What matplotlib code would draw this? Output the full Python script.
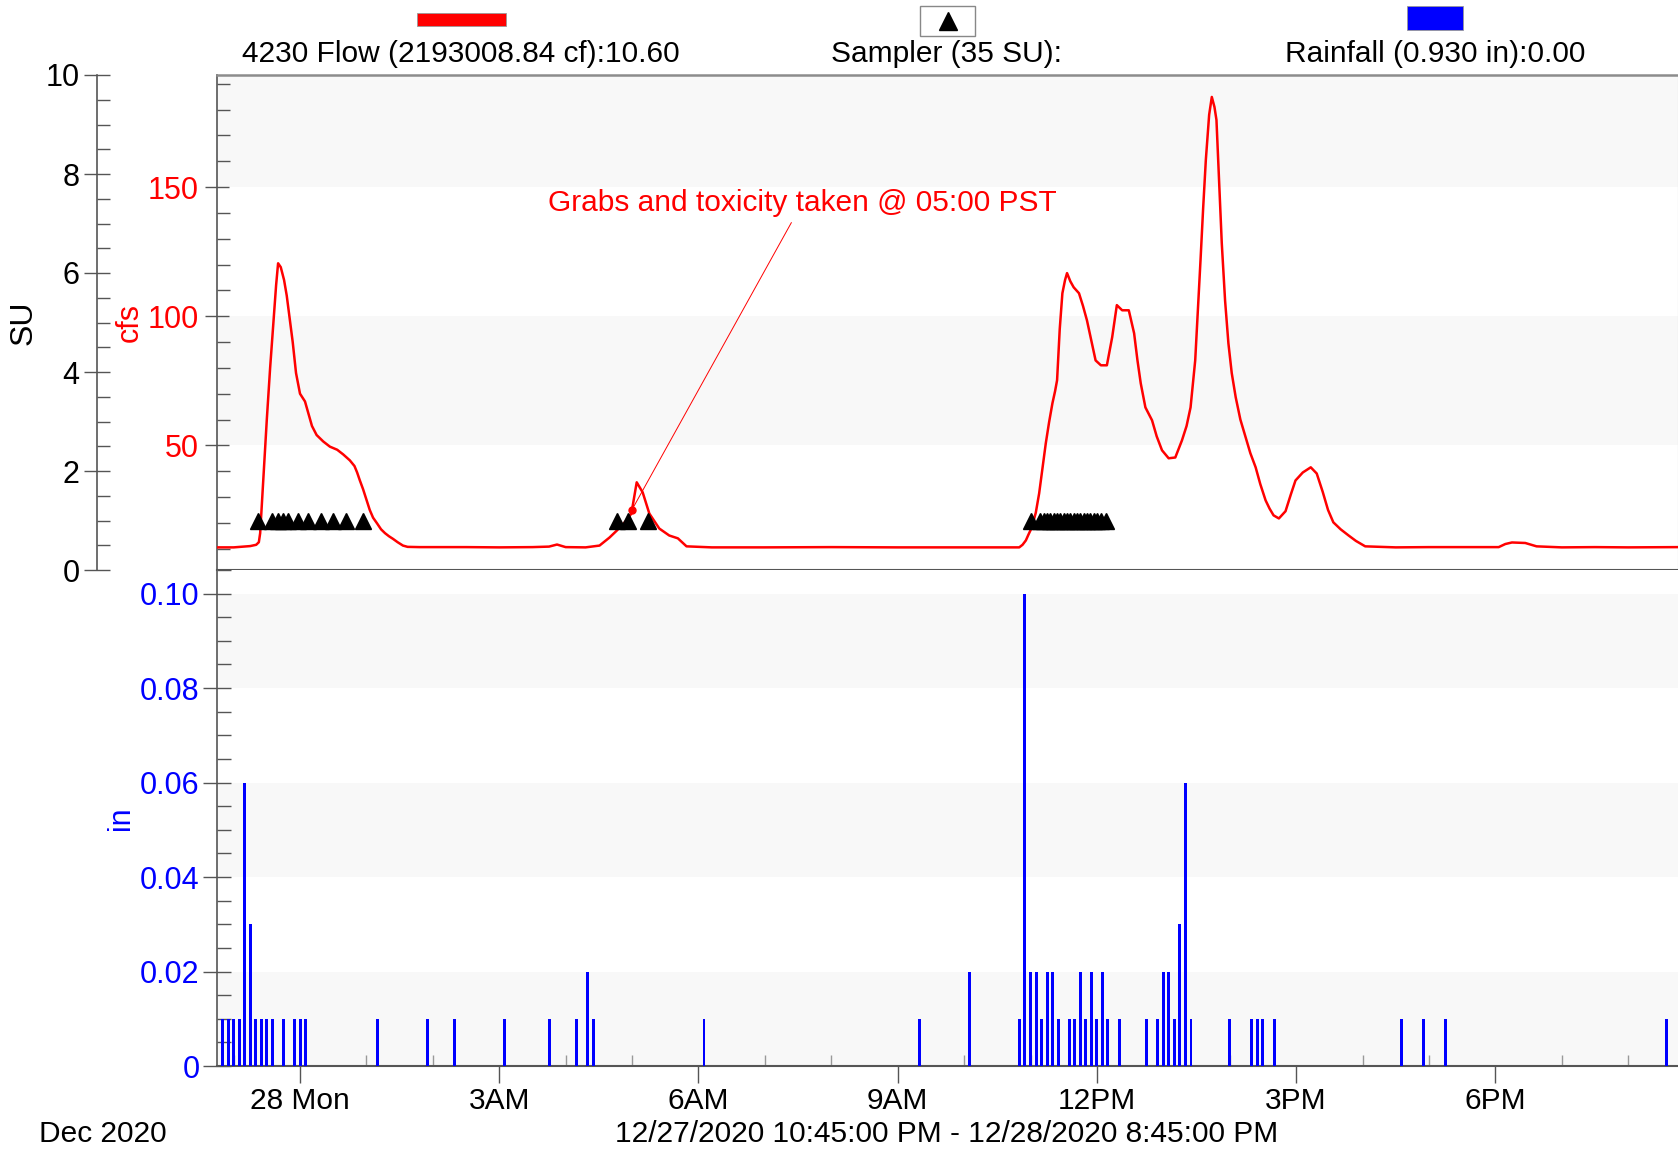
import matplotlib
matplotlib.use("Agg")
import numpy as np
import matplotlib.pyplot as plt
from matplotlib.ticker import MultipleLocator, FixedLocator, FixedFormatter
from matplotlib.patches import Rectangle
from matplotlib.lines import Line2D

plt.rcParams['font.family'] = ['Liberation Sans', 'DejaVu Sans']

# ---------------- data ----------------
# flow (cfs) vs hours relative to midnight 12/28/2020
flow_t = [-1.25, -1.0, -0.75, -0.66, -0.62, -0.60, -0.55, -0.50, -0.45, -0.40,
          -0.36, -0.33, -0.29, -0.24, -0.20, -0.15, -0.11, -0.06, 0.0, 0.075,
          0.13, 0.18, 0.25, 0.35, 0.45, 0.56, 0.65, 0.75, 0.82, 0.86,
          0.90, 0.95, 1.00, 1.05, 1.10, 1.16, 1.22, 1.28, 1.34, 1.40,
          1.47, 1.55, 1.62, 1.8, 2.5, 3.0, 3.5, 3.75, 3.87, 4.0,
          4.3, 4.51, 4.66, 4.77, 4.90, 4.99, 5.07, 5.16, 5.26, 5.41,
          5.56, 5.69, 5.82, 6.2, 7.0, 8.0, 9.0, 10.0, 10.5, 10.83,
          10.88, 10.93, 10.97, 11.02, 11.08, 11.13, 11.18, 11.23, 11.28, 11.33,
          11.37, 11.40, 11.44, 11.48, 11.52, 11.55, 11.60, 11.65, 11.73, 11.79,
          11.85, 11.92, 11.98, 12.06, 12.15, 12.23, 12.30, 12.38, 12.48, 12.56,
          12.61, 12.66, 12.73, 12.83, 12.90, 12.98, 13.08, 13.18, 13.28, 13.35,
          13.41, 13.48, 13.52, 13.56, 13.60, 13.64, 13.69, 13.73, 13.77, 13.80,
          13.84, 13.88, 13.93, 13.98, 14.03, 14.09, 14.16, 14.24, 14.31, 14.39,
          14.46, 14.54, 14.60, 14.66, 14.74, 14.84, 14.92, 14.99, 15.10, 15.22,
          15.31, 15.40, 15.48, 15.56, 15.67, 15.79, 15.90, 16.04, 16.5, 17.0,
          17.5, 18.05, 18.15, 18.25, 18.45, 18.62, 19.0, 19.5, 20.0, 20.75]
flow_cfs = [10.5, 10.5, 11.0, 11.5, 12.5, 16.0, 38.0, 60.0, 80.0, 98.0,
            112.0, 120.5, 119.0, 114.0, 108.0, 98.0, 90.0, 78.0, 70.0, 67.0,
            62.0, 57.5, 54.0, 51.5, 49.5, 48.3, 46.5, 44.2, 42.0, 39.5,
            36.5, 33.0, 29.0, 25.0, 22.0, 19.8, 17.5, 16.0, 14.8, 13.8,
            12.5, 11.2, 10.7, 10.6, 10.6, 10.5, 10.6, 10.8, 11.6, 10.6,
            10.5, 11.2, 14.3, 17.0, 20.5, 23.6, 35.7, 31.8, 23.6, 17.8,
            15.1, 14.0, 10.9, 10.5, 10.5, 10.6, 10.5, 10.5, 10.5, 10.5,
            11.5, 13.2, 15.5, 18.2, 24.0, 31.4, 41.0, 50.8, 59.0, 66.3,
            71.0, 75.2, 95.0, 108.9, 114.0, 116.7, 113.5, 111.2, 108.9, 104.0,
            98.4, 90.0, 82.9, 81.0, 81.0, 91.9, 104.3, 102.3, 102.3, 93.4,
            83.0, 74.0, 64.7, 59.7, 53.5, 48.1, 45.0, 45.3, 51.9, 57.5,
            64.7, 82.9, 102.0, 121.7, 142.0, 160.5, 178.0, 184.9, 181.0, 176.0,
            152.0, 128.3, 106.0, 89.5, 78.0, 68.6, 60.0, 53.1, 47.0, 41.5,
            35.0, 28.7, 25.5, 22.9, 21.7, 24.5, 31.0, 36.4, 39.5, 41.5,
            39.1, 32.0, 25.0, 20.2, 17.5, 15.1, 13.0, 10.9, 10.5, 10.6,
            10.6, 10.6, 11.8, 12.4, 12.2, 10.9, 10.5, 10.6, 10.5, 10.6]

# sampler events (SU), hours relative to midnight
sampler_t = [-0.63, -0.42, -0.33, -0.25, -0.18, -0.03, 0.12, 0.31, 0.50, 0.70, 0.95,
             4.78, 4.94, 5.24,
             11.00, 11.15, 11.20, 11.25, 11.30, 11.35, 11.40, 11.45, 11.50, 11.55,
             11.60, 11.65, 11.70, 11.75, 11.80, 11.85, 11.90, 11.95, 12.00, 12.06, 12.13]
sampler_su = [1.0] * len(sampler_t)

# rainfall (in), 5-minute clock times
rain_times = ["22:50", "22:55", "23:00", "23:05", "23:10", "23:15", "23:20", "23:25",
              "23:30", "23:35", "23:45", "23:55", "00:00", "00:05", "01:10", "01:55",
              "02:20", "03:05", "03:45", "04:10", "04:20", "04:25", "06:05", "09:20",
              "10:05", "10:50", "10:55", "11:00", "11:05", "11:10", "11:15", "11:20",
              "11:25", "11:35", "11:40", "11:45", "11:50", "11:55", "12:00", "12:05",
              "12:10", "12:20", "12:45", "12:55", "13:00", "13:05", "13:10", "13:15",
              "13:20", "13:25", "14:00", "14:20", "14:25", "14:30", "14:40", "16:35",
              "16:55", "17:15", "20:35"]
rain_in = [0.01, 0.01, 0.01, 0.01, 0.06, 0.03, 0.01, 0.01,
           0.01, 0.01, 0.01, 0.01, 0.01, 0.01, 0.01, 0.01,
           0.01, 0.01, 0.01, 0.01, 0.02, 0.01, 0.01, 0.01,
           0.02, 0.01, 0.10, 0.02, 0.02, 0.01, 0.02, 0.02,
           0.01, 0.01, 0.01, 0.02, 0.01, 0.02, 0.01, 0.02,
           0.01, 0.01, 0.01, 0.01, 0.02, 0.02, 0.01, 0.03,
           0.06, 0.01, 0.01, 0.01, 0.01, 0.01, 0.01, 0.01,
           0.01, 0.01, 0.01]

x_tick_hours = [0, 3, 6, 9, 12, 15, 18]
x_tick_labels = ["28 Mon", "3AM", "6AM", "9AM", "12PM", "3PM", "6PM"]
cfs_ticks = [50, 100, 150]
su_ticks = [0, 2, 4, 6, 8, 10]
rain_ticks = [0, 0.02, 0.04, 0.06, 0.08, 0.10]
rain_tick_labels = ["0", "0.02", "0.04", "0.06", "0.08", "0.10"]

grab_time = 5.0
annot_text = "Grabs and toxicity taken @ 05:00 PST"
legend_flow = "4230 Flow (2193008.84 cf):10.60"
legend_sampler = "Sampler (35 SU):"
legend_rain = "Rainfall (0.930 in):0.00"
date_left = "Dec 2020"
date_range = "12/27/2020 10:45:00 PM - 12/28/2020 8:45:00 PM"


def to_hours(s):
    h, m = map(int, s.split(":"))
    v = h + m / 60.0
    if h >= 22:
        v -= 24
    return v


rain_t = [to_hours(s) for s in rain_times]

# ---------------- figure ----------------
W, H = 1678, 1152
fig = plt.figure(figsize=(W / 100, H / 100), dpi=100)
L, R = 217, 1678


def rect(top, bottom):
    return [L / W, 1 - bottom / H, (R - L) / W, (bottom - top) / H]


RED = "#ff0000"
BLUE = "#0000ff"
AXC = "#555555"
BAND = "#f8f8f8"
TICKFS = 22

ax = fig.add_axes(rect(75, 570))
axr = fig.add_axes(rect(570, 1066), sharex=ax)

ax.set_xlim(-1.25, 20.75)
ax.set_ylim(1.74, 193.4)
axr.set_ylim(0, 0.105)

# background bands
for lo, hi in [(150, 200), (50, 100)]:
    ax.axhspan(lo, hi, color=BAND, zorder=0, lw=0)
for lo, hi in [(0.08, 0.10), (0.04, 0.06), (0.0, 0.02)]:
    axr.axhspan(lo, hi, color=BAND, zorder=0, lw=0)

# flow line
ax.plot(flow_t, flow_cfs, color=RED, lw=1.8, zorder=3, solid_joinstyle="round")

# annotation
gy = float(np.interp(grab_time, flow_t, flow_cfs))
ax.plot([grab_time], [gy], "o", color=RED, ms=5, zorder=4)
ax.annotate(annot_text, xy=(grab_time, gy), xytext=(7.56, 143.7),
            ha="center", va="center", color=RED, fontsize=21.5,
            arrowprops=dict(arrowstyle="-", color=RED, lw=0.7,
                            shrinkA=2, shrinkB=0))

# SU axis (sampler)
ax_su = ax.twinx()
ax_su.set_ylim(0, 10)
ax_su.plot(sampler_t, sampler_su, linestyle="none", marker="^", ms=11,
           color="black", zorder=5)
ax_su.yaxis.set_ticks_position("left")
ax_su.yaxis.set_label_position("left")
ax_su.spines["left"].set_position(("axes", (97 - L) / (R - L)))
ax_su.spines["left"].set_visible(True)
for s in ["right", "top", "bottom"]:
    ax_su.spines[s].set_visible(False)
ax_su.spines["left"].set_color(AXC)
ax_su.spines["left"].set_linewidth(1.2)
ax_su.yaxis.set_major_locator(FixedLocator(su_ticks))
ax_su.yaxis.set_minor_locator(MultipleLocator(0.5))
ax_su.tick_params(axis="y", which="major", direction="inout", length=19,
                  width=1, color=AXC, pad=3.0, labelsize=TICKFS, labelcolor="black")
ax_su.tick_params(axis="y", which="minor", direction="in", length=9,
                  width=1, color=AXC)
ax_su.set_ylabel("SU", fontsize=23, color="black", va="center")
ax_su.yaxis.set_label_coords((23.5 - L) / (R - L), 0.5)

# cfs axis styling
ax.yaxis.set_major_locator(FixedLocator(cfs_ticks))
ax.yaxis.set_minor_locator(MultipleLocator(10))
ax.tick_params(axis="y", which="major", direction="inout", length=17.5,
               width=1, color=AXC, pad=4.5, labelsize=TICKFS, labelcolor=RED)
ax.tick_params(axis="y", which="minor", direction="in", length=9.4,
               width=1, color=AXC)
ax.set_ylabel("cfs", fontsize=22, color=RED, va="center")
ax.yaxis.set_label_coords((130 - L) / (R - L), 0.5)
ax.tick_params(axis="x", which="both", bottom=False, labelbottom=False,
               top=False, labeltop=False)
ax.spines["left"].set_color(AXC)
ax.spines["left"].set_linewidth(1.2)
ax.spines["top"].set_color("#8c8c8c")
ax.spines["top"].set_linewidth(1.8)
ax.spines["right"].set_color("#c8c8c8")
ax.spines["bottom"].set_color(AXC)
ax.spines["bottom"].set_linewidth(1.5)

# rainfall
axr.bar(rain_t, rain_in, width=0.045, color=BLUE, zorder=3, lw=0)
axr.yaxis.set_major_locator(FixedLocator(rain_ticks))
axr.yaxis.set_major_formatter(FixedFormatter(rain_tick_labels))
axr.yaxis.set_minor_locator(MultipleLocator(0.005))
axr.tick_params(axis="y", which="major", direction="inout", length=20,
                width=1, color=AXC, pad=2.5, labelsize=TICKFS, labelcolor=BLUE)
axr.tick_params(axis="y", which="minor", direction="in", length=10,
                width=1, color=AXC)
axr.set_ylabel("in", fontsize=22, color=BLUE, va="center")
axr.yaxis.set_label_coords((121 - L) / (R - L), 0.5)

axr.xaxis.set_major_locator(FixedLocator(x_tick_hours))
axr.xaxis.set_major_formatter(FixedFormatter(x_tick_labels))
axr.xaxis.set_minor_locator(MultipleLocator(1))
axr.tick_params(axis="x", which="major", direction="out", length=12,
                width=1, color=AXC, pad=3, labelsize=21.5, labelcolor="black")
axr.tick_params(axis="x", which="minor", direction="in", length=8,
                width=1, color="#999999")
axr.spines["left"].set_color(AXC)
axr.spines["left"].set_linewidth(1.2)
axr.spines["bottom"].set_color(AXC)
axr.spines["bottom"].set_linewidth(1.5)
axr.spines["top"].set_visible(False)
axr.spines["right"].set_visible(False)

# ---------------- legend header ----------------
fig.add_artist(Rectangle((417 / W, 1 - 26 / H), 89 / W, 13 / H,
                         transform=fig.transFigure, facecolor=RED,
                         edgecolor="#999999", lw=0.6))
fig.add_artist(Rectangle((920 / W, 1 - 36 / H), 55 / W, 30 / H,
                         transform=fig.transFigure, facecolor="white",
                         edgecolor="#888888", lw=1.0))
fig.add_artist(Line2D([947.5 / W], [1 - 21 / H], transform=fig.transFigure,
                      marker="^", ms=12.5, color="black", linestyle="none"))
fig.add_artist(Rectangle((1407 / W, 1 - 30 / H), 56 / W, 24 / H,
                         transform=fig.transFigure, facecolor=BLUE,
                         edgecolor="#999999", lw=0.6))
fig.text(461 / W, 1 - 54 / H, legend_flow, ha="center", va="center", fontsize=21.5)
fig.text(947 / W, 1 - 54 / H, legend_sampler, ha="center", va="center", fontsize=21.5)
fig.text(1435 / W, 1 - 54 / H, legend_rain, ha="center", va="center", fontsize=21.5)

# ---------------- footer ----------------
fig.text(103 / W, 1 - 1134 / H, date_left, ha="center", va="center", fontsize=21.5)
fig.text(947 / W, 1 - 1134 / H, date_range, ha="center", va="center", fontsize=21.5)

fig.savefig("out.png", dpi=100, facecolor="white")
